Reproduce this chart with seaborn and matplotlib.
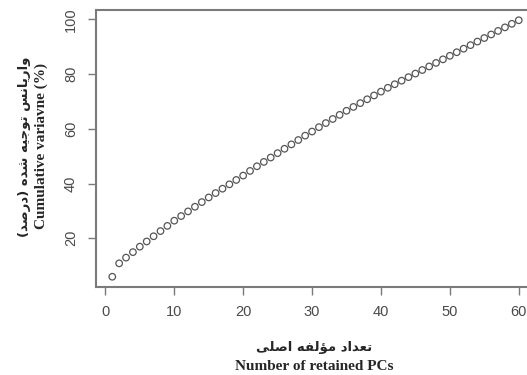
import matplotlib
matplotlib.use("Agg")
import matplotlib.pyplot as plt
import pandas as pd
import seaborn as sns

# Data
n_pcs = list(range(1, 61))
cum_var = [5.9, 10.8, 12.9, 14.9, 16.9, 18.8, 20.7, 22.6, 24.5, 26.4,
           28.1, 29.8, 31.5, 33.2, 34.9, 36.5, 38.1, 39.7, 41.3, 42.9,
           44.6, 46.3, 47.9, 49.5, 51.1, 52.7, 54.3, 55.9, 57.5, 59.0,
           60.6, 62.1, 63.6, 65.1, 66.6, 68.0, 69.4, 70.8, 72.2, 73.6,
           75.0, 76.3, 77.6, 78.9, 80.2, 81.5, 82.8, 84.1, 85.4, 86.7,
           88.0, 89.3, 90.6, 91.9, 93.2, 94.5, 95.8, 97.1, 98.4, 99.7]
x_ticks = [0, 10, 20, 30, 40, 50, 60]
y_ticks = [20, 40, 60, 80, 100]

xlabel_fa = "تعداد مؤلفه اصلی"
xlabel_en = "Number of retained PCs"
ylabel_fa = "واریانس توجیه شده (درصد)"
ylabel_en = "Cumulative variavne (%)"

# Persian shaping: matplotlib has no complex text layout, so map letters to
# presentation forms (iso, fin, ini, med) and reverse for display
FORMS = {
    'ا': ('\uFE8D', '\uFE8E', None, None),
    'د': ('\uFEA9', '\uFEAA', None, None),
    'ر': ('\uFEAD', '\uFEAE', None, None),
    'و': ('\uFEED', '\uFEEE', None, None),
    'ؤ': ('\uFE85', '\uFE86', None, None),
    'ت': ('\uFE95', '\uFE96', '\uFE97', '\uFE98'),
    'ج': ('\uFE9D', '\uFE9E', '\uFE9F', '\uFEA0'),
    'س': ('\uFEB1', '\uFEB2', '\uFEB3', '\uFEB4'),
    'ش': ('\uFEB5', '\uFEB6', '\uFEB7', '\uFEB8'),
    'ص': ('\uFEB9', '\uFEBA', '\uFEBB', '\uFEBC'),
    'ع': ('\uFEC9', '\uFECA', '\uFECB', '\uFECC'),
    'ف': ('\uFED1', '\uFED2', '\uFED3', '\uFED4'),
    'ل': ('\uFEDD', '\uFEDE', '\uFEDF', '\uFEE0'),
    'م': ('\uFEE1', '\uFEE2', '\uFEE3', '\uFEE4'),
    'ن': ('\uFEE5', '\uFEE6', '\uFEE7', '\uFEE8'),
    'ه': ('\uFEE9', '\uFEEA', '\uFEEB', '\uFEEC'),
    'ی': ('\uFBFC', '\uFBFD', '\uFBFE', '\uFBFF'),
}


def shape_fa(text):
    out = []
    for i, ch in enumerate(text):
        if ch not in FORMS:
            out.append(ch)
            continue
        prev = text[i - 1] if i > 0 else ''
        nxt = text[i + 1] if i + 1 < len(text) else ''
        dual = FORMS[ch][2] is not None
        j_prev = prev in FORMS and FORMS[prev][2] is not None
        j_next = dual and nxt in FORMS
        if j_prev and j_next:
            out.append(FORMS[ch][3])
        elif j_prev:
            out.append(FORMS[ch][1])
        elif j_next:
            out.append(FORMS[ch][2])
        else:
            out.append(FORMS[ch][0])
    vis = ''.join(reversed(out))
    return vis.translate(str.maketrans('()', ')('))


df = pd.DataFrame({'pc': n_pcs, 'cum': cum_var})

sns.set_style("white")
plt.rcParams['font.family'] = ['Liberation Sans', 'DejaVu Sans']

W, H = 527, 375
fig = plt.figure(figsize=(W / 100, H / 100), dpi=100)
ax = fig.add_axes([96 / W, 1 - 287 / H, (535 - 96) / W, (287 - 10) / H])

sns.scatterplot(data=df, x='pc', y='cum', ax=ax, marker='o', s=22,
                facecolors='none', edgecolor='#555555', linewidth=0.9)

ax.set_xlim(-1.36, 62.36)
ax.set_ylim(2.15, 103.45)
ax.set_xticks(x_ticks)
ax.set_yticks(y_ticks)
ax.set_xlabel('')
ax.set_ylabel('')

for side in ['left', 'top', 'bottom', 'right']:
    ax.spines[side].set_color('#7a7a7a')
    ax.spines[side].set_linewidth(1.5)

ax.tick_params(axis='both', bottom=True, left=True, direction='out',
               length=6, width=1.0, color='#7a7a7a', labelcolor='#4a4a4a',
               labelsize=10.5, pad=7)
ax.tick_params(axis='y', labelrotation=90)
for lab in ax.get_yticklabels():
    lab.set_va('center')

# axis titles: Persian line plus English line
fig.text(314 / W, 1 - 348 / H, shape_fa(xlabel_fa), ha='center', va='center',
         fontsize=9.5, fontweight='bold', family=['DejaVu Sans'])
fig.text(314 / W, 1 - 366 / H, xlabel_en, ha='center', va='center',
         fontsize=11, fontweight='bold', family=['Liberation Serif'])
fig.text(25 / W, 1 - 147 / H, shape_fa(ylabel_fa), ha='center', va='center',
         rotation=90, fontsize=9.5, fontweight='bold', family=['DejaVu Sans'])
fig.text(41 / W, 1 - 146 / H, ylabel_en, ha='center', va='center',
         rotation=90, fontsize=11, fontweight='bold', family=['Liberation Serif'])

fig.savefig('out.png', dpi=100, facecolor='white')
